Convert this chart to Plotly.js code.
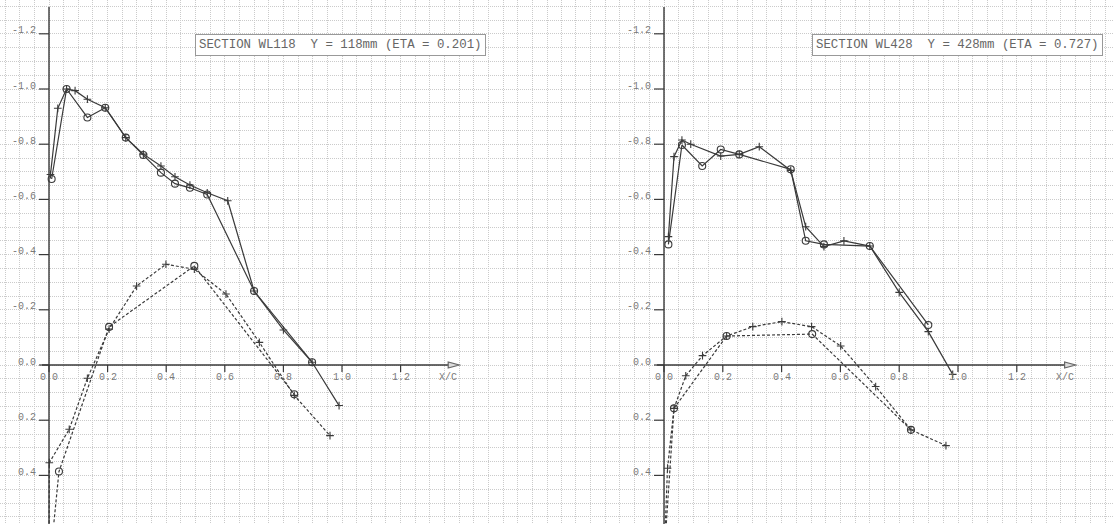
<!DOCTYPE html>
<html>
<head>
<meta charset="utf-8">
<script src="https://cdn.plot.ly/plotly-3.0.1.min.js"></script>
<style>
  html, body { margin: 0; padding: 0; background: #fff; }
  #chart { width: 1113px; height: 524px; }
</style>
</head>
<body>
<div id="chart"></div>
<script>
// Pressure distributions (-Cp against x/c) at two wing sections.
// "O" series are drawn with open circles, "P" series with plus marks;
// solid lines are the upper surface, dashed lines the lower surface.

// ---- Section WL118 ----
const wl118Title = "SECTION WL118  Y = 118mm (ETA = 0.201)";
const wl118UpperO_x = [0.009, 0.060, 0.131, 0.192, 0.262, 0.322, 0.382, 0.430, 0.481, 0.540, 0.700, 0.898];
const wl118UpperO_y = [-0.674, -1.000, -0.897, -0.932, -0.824, -0.761, -0.697, -0.657, -0.642, -0.618, -0.268, -0.010];
const wl118UpperP_x = [0.005, 0.030, 0.060, 0.089, 0.131, 0.192, 0.262, 0.322, 0.382, 0.430, 0.481, 0.540, 0.610, 0.700, 0.800, 0.898, 0.990];
const wl118UpperP_y = [-0.690, -0.930, -1.000, -0.994, -0.963, -0.932, -0.824, -0.764, -0.721, -0.682, -0.652, -0.624, -0.595, -0.268, -0.127, -0.010, 0.147];
const wl118LowerO_x = [0.000, 0.034, 0.205, 0.496, 0.837];
const wl118LowerO_y = [0.750, 0.386, -0.138, -0.359, 0.106];
const wl118LowerP_x = [0.000, 0.001, 0.069, 0.131, 0.205, 0.299, 0.399, 0.496, 0.604, 0.718, 0.837, 0.959];
const wl118LowerP_y = [0.700, 0.354, 0.233, 0.048, -0.130, -0.286, -0.365, -0.347, -0.257, -0.082, 0.110, 0.256];

// ---- Section WL428 ----
const wl428Title = "SECTION WL428  Y = 428mm (ETA = 0.727)";
const wl428UpperO_x = [0.015, 0.061, 0.130, 0.193, 0.256, 0.431, 0.482, 0.544, 0.700, 0.899];
const wl428UpperO_y = [-0.437, -0.797, -0.721, -0.781, -0.763, -0.709, -0.450, -0.437, -0.431, -0.145];
const wl428UpperP_x = [0.015, 0.034, 0.061, 0.091, 0.193, 0.256, 0.324, 0.431, 0.482, 0.544, 0.612, 0.700, 0.800, 0.899, 0.982];
const wl428UpperP_y = [-0.465, -0.755, -0.815, -0.800, -0.757, -0.763, -0.791, -0.705, -0.501, -0.429, -0.450, -0.431, -0.263, -0.121, 0.034];
const wl428LowerO_x = [0.000, 0.034, 0.213, 0.504, 0.840];
const wl428LowerO_y = [0.700, 0.157, -0.105, -0.112, 0.235];
const wl428LowerP_x = [0.000, 0.012, 0.034, 0.074, 0.131, 0.213, 0.302, 0.401, 0.502, 0.601, 0.720, 0.840, 0.959];
const wl428LowerP_y = [0.700, 0.374, 0.157, 0.039, -0.034, -0.105, -0.139, -0.157, -0.139, -0.069, 0.078, 0.235, 0.292];

// ---- Axis labelling ----
const yTickVals = [-1.2, -1.0, -0.8, -0.6, -0.4, -0.2, 0.0, 0.2, 0.4];
const yTickText = ["-1.2", "-1.0", "-0.8", "-0.6", "-0.4", "-0.2", "0.0", "0.2", "0.4"];
const xTickVals = [0.0, 0.2, 0.4, 0.6, 0.8, 1.0, 1.2];
const xTickText = ["0.0", "0.2", "0.4", "0.6", "0.8", "1.0", "1.2"];
const xAxisLabel = "X/C";
const xAxisEnd = 1.4;

// ---- Page geometry (pixels) ----
const W = 1113, H = 524;
const split = 556;                       // boundary between the two panels
const panels = [
  { xa: "x",  ya: "y",  x0px: 49,  xs: 293, d0: 0,     d1: split },
  { xa: "x2", ya: "y2", x0px: 664, xs: 294, d0: split, d1: W }
];
const y0px = 365, ys = 276;              // value-0 row and pixels per unit

const INK = "#3a3a3a";
const LABEL = "#7a7a7a";
const GRID = "#cbcbcb";
const MONO = "Liberation Mono, DejaVu Sans Mono, monospace";

function series(xs, yss, p, dashed, sym) {
  return {
    x: xs, y: yss, xaxis: p.xa, yaxis: p.ya, type: "scatter", mode: "lines+markers",
    line: { color: INK, width: 1.2, dash: dashed ? "3px,2px" : "solid" },
    marker: sym === "o"
      ? { symbol: "circle-open", size: 7, color: INK, line: { width: 1.1, color: INK } }
      : { symbol: "cross-thin-open", size: 5.5, color: INK, line: { width: 1.1, color: INK } },
    hoverinfo: "skip", showlegend: false
  };
}

const sets = [
  { o: [wl118UpperO_x, wl118UpperO_y], p: [wl118UpperP_x, wl118UpperP_y],
    lo: [wl118LowerO_x, wl118LowerO_y], lp: [wl118LowerP_x, wl118LowerP_y], title: wl118Title },
  { o: [wl428UpperO_x, wl428UpperO_y], p: [wl428UpperP_x, wl428UpperP_y],
    lo: [wl428LowerO_x, wl428LowerO_y], lp: [wl428LowerP_x, wl428LowerP_y], title: wl428Title }
];

const data = [];
const shapes = [];
const annotations = [];
const layout = {
  width: W, height: H, margin: { l: 0, r: 0, t: 0, b: 0 },
  paper_bgcolor: "#fff", plot_bgcolor: "#fff", showlegend: false
};

const yTopVal = (7 - y0px) / ys;
const yBotVal = (H - y0px) / ys;

panels.forEach((p, i) => {
  const s = sets[i];
  data.push(series(s.lo[0], s.lo[1], p, true, "o"));
  data.push(series(s.lp[0], s.lp[1], p, true, "p"));
  data.push(series(s.o[0], s.o[1], p, false, "o"));
  data.push(series(s.p[0], s.p[1], p, false, "p"));

  const xKey = i === 0 ? "xaxis" : "xaxis2";
  const yKey = i === 0 ? "yaxis" : "yaxis2";
  const gridAxis = {
    tick0: 0, dtick: 0.05, showgrid: true, gridcolor: GRID, griddash: "1px,1px", gridwidth: 1,
    zeroline: false, showticklabels: false, ticks: "", showline: false, fixedrange: true
  };
  layout[xKey] = Object.assign({
    domain: [p.d0 / W, p.d1 / W],
    range: [(p.d0 - p.x0px) / p.xs, (p.d1 - p.x0px) / p.xs],
    anchor: p.ya
  }, gridAxis);
  layout[yKey] = Object.assign({
    domain: [0, 1],
    range: [yBotVal, (0 - y0px) / ys],
    anchor: p.xa
  }, gridAxis);

  // vertical axis
  shapes.push({ type: "line", xref: p.xa, yref: p.ya, x0: 0, x1: 0, y0: yTopVal, y1: yBotVal,
                line: { color: INK, width: 1.4 } });
  // horizontal axis
  shapes.push({ type: "line", xref: p.xa, yref: p.ya, x0: -7 / p.xs, x1: xAxisEnd - 10 / p.xs, y0: 0, y1: 0,
                line: { color: INK, width: 1.4 } });
  // arrow head
  shapes.push({ type: "path", xref: p.xa, yref: p.ya, xsizemode: "pixel", ysizemode: "pixel",
                xanchor: xAxisEnd, yanchor: 0, path: "M -11,-3 L 0,0 L -11,3 Z",
                line: { color: "#666", width: 1.2 }, fillcolor: "#dcdcdc" });

  yTickVals.forEach((v, k) => {
    shapes.push({ type: "line", xref: p.xa, yref: p.ya, xsizemode: "pixel", xanchor: 0,
                  x0: -10, x1: 0, y0: v, y1: v, line: { color: INK, width: 1.2 } });
    annotations.push({ xref: p.xa, yref: p.ya, x: 0, y: v, text: yTickText[k], showarrow: false,
                       xanchor: "right", yanchor: "middle", xshift: -11, yshift: 3,
                       font: { family: MONO, size: 10, color: LABEL } });
  });
  xTickVals.forEach((v, k) => {
    shapes.push({ type: "line", xref: p.xa, yref: p.ya, ysizemode: "pixel", yanchor: 0,
                  x0: v, x1: v, y0: 0, y1: -7, line: { color: INK, width: 1.2 } });
    annotations.push({ xref: p.xa, yref: p.ya, x: v, y: 0, text: xTickText[k], showarrow: false,
                       xanchor: "center", yanchor: "top", yshift: -5,
                       font: { family: MONO, size: 10, color: LABEL } });
  });
  annotations.push({ xref: p.xa, yref: p.ya, x: xAxisEnd, y: 0, text: xAxisLabel, showarrow: false,
                     xanchor: "right", yanchor: "top", yshift: -5,
                     font: { family: MONO, size: 10, color: LABEL } });

  // section caption box
  const boxLeft = i === 0 ? 195 : 812;
  annotations.push({ xref: "paper", yref: "paper", x: boxLeft / W, y: 1 - 34 / H,
                     xanchor: "left", yanchor: "top", text: s.title, showarrow: false,
                     font: { family: MONO, size: 12.4, color: "#666" },
                     bgcolor: "#fff", bordercolor: "#999", borderwidth: 1, borderpad: 3 });
});

layout.shapes = shapes;
layout.annotations = annotations;

Plotly.newPlot("chart", data, layout, { staticPlot: true, displayModeBar: false });
</script>
</body>
</html>
